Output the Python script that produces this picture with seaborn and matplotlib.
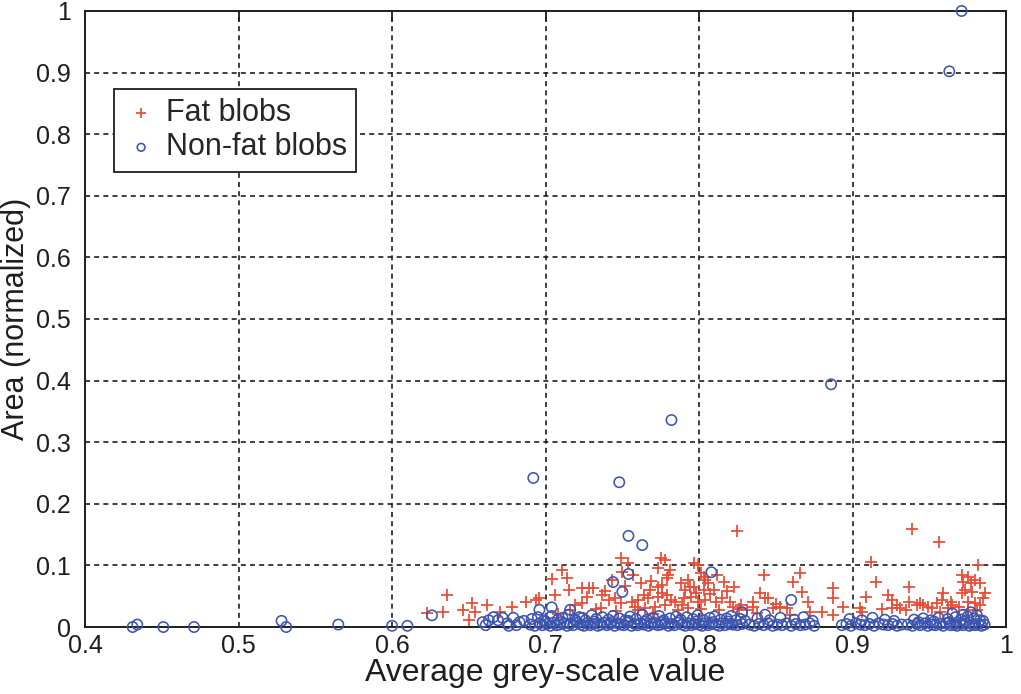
import matplotlib
matplotlib.use("Agg")
import matplotlib.pyplot as plt
from matplotlib.markers import MarkerStyle
import seaborn as sns
import pandas as pd

# ---------------- data ----------------
fat_x = [0.623, 0.633, 0.636, 0.646, 0.652, 0.654, 0.650, 0.662, 0.670, 0.678,
         0.687, 0.694, 0.696, 0.704, 0.711, 0.714, 0.715, 0.706, 0.724, 0.728,
         0.731, 0.724, 0.716, 0.737, 0.741, 0.736, 0.749, 0.754, 0.750, 0.745,
         0.749, 0.756, 0.760, 0.760, 0.764, 0.765, 0.767, 0.768, 0.771, 0.773,
         0.773, 0.773, 0.775, 0.776, 0.778, 0.778, 0.779, 0.779, 0.780, 0.784,
         0.786, 0.788, 0.791, 0.793, 0.793, 0.794, 0.797, 0.797, 0.799, 0.799,
         0.801, 0.803, 0.803, 0.804, 0.804, 0.806, 0.810, 0.812, 0.815, 0.816,
         0.820, 0.822, 0.823, 0.825, 0.835, 0.835, 0.840, 0.842, 0.843, 0.845,
         0.848, 0.853, 0.857, 0.859, 0.861, 0.866, 0.867, 0.871, 0.872, 0.880,
         0.887, 0.887, 0.887, 0.894, 0.905, 0.906, 0.909, 0.912, 0.915, 0.923,
         0.926, 0.929, 0.931, 0.926, 0.935, 0.937, 0.937, 0.939, 0.956, 0.982,
         0.971, 0.975, 0.972, 0.977, 0.980, 0.983, 0.973, 0.978, 0.971, 0.986,
         0.959, 0.958, 0.955, 0.964, 0.965, 0.962, 0.969, 0.975, 0.980, 0.983,
         0.985, 0.942, 0.944, 0.946, 0.949, 0.952, 0.981, 0.975, 0.957, 0.919,
         0.719, 0.733, 0.739, 0.746, 0.752, 0.758, 0.762, 0.770, 0.776, 0.782,
         0.789, 0.795, 0.801, 0.807, 0.813, 0.818, 0.827, 0.831, 0.838, 0.850,
         0.708, 0.727, 0.743, 0.757, 0.769, 0.781, 0.790, 0.798, 0.811, 0.826]
fat_y = [0.023, 0.024, 0.052, 0.028, 0.039, 0.024, 0.011, 0.036, 0.024, 0.032,
         0.041, 0.044, 0.047, 0.078, 0.093, 0.080, 0.060, 0.052, 0.063, 0.063,
         0.063, 0.039, 0.028, 0.052, 0.044, 0.031, 0.112, 0.104, 0.089, 0.047,
         0.039, 0.041, 0.044, 0.028, 0.052, 0.031, 0.047, 0.060, 0.032, 0.065,
         0.096, 0.049, 0.112, 0.068, 0.109, 0.036, 0.052, 0.080, 0.084, 0.041,
         0.028, 0.071, 0.060, 0.076, 0.031, 0.065, 0.104, 0.065, 0.101, 0.041,
         0.088, 0.081, 0.060, 0.076, 0.044, 0.071, 0.060, 0.084, 0.047, 0.073,
         0.041, 0.032, 0.065, 0.156, 0.041, 0.032, 0.055, 0.084, 0.047, 0.047,
         0.031, 0.032, 0.031, 0.019, 0.073, 0.088, 0.057, 0.041, 0.024, 0.024,
         0.063, 0.047, 0.019, 0.032, 0.031, 0.024, 0.049, 0.106, 0.073, 0.052,
         0.044, 0.036, 0.031, 0.031, 0.028, 0.065, 0.041, 0.159, 0.138, 0.101,
         0.084, 0.081, 0.073, 0.071, 0.076, 0.071, 0.060, 0.057, 0.055, 0.055,
         0.055, 0.044, 0.039, 0.041, 0.036, 0.031, 0.032, 0.041, 0.039, 0.036,
         0.047, 0.036, 0.039, 0.036, 0.032, 0.031, 0.028, 0.028, 0.024, 0.030,
         0.036, 0.029, 0.058, 0.026, 0.067, 0.033, 0.071, 0.021, 0.056, 0.044,
         0.035, 0.049, 0.030, 0.053, 0.027, 0.058, 0.036, 0.027, 0.023, 0.038,
         0.021, 0.048, 0.077, 0.085, 0.075, 0.092, 0.047, 0.055, 0.040, 0.030]

nonfat_x = [
    # outliers
    0.971, 0.963, 0.886, 0.782, 0.692, 0.748, 0.754, 0.763, 0.744, 0.754,
    0.750, 0.808, 0.860, 0.828, 0.843,
    # sparse left part
    0.431, 0.434, 0.451, 0.471, 0.528, 0.531, 0.565, 0.600, 0.610, 0.626,
    0.659, 0.663, 0.666, 0.669, 0.672, 0.675, 0.679, 0.681, 0.683, 0.661,
    0.676, 0.686, 0.696, 0.704, 0.716, 0.724,
    # dense band, row 1
    0.690, 0.693, 0.696, 0.698, 0.701, 0.703, 0.705, 0.707, 0.709, 0.712,
    0.714, 0.716, 0.718, 0.721, 0.723, 0.725, 0.727, 0.729, 0.731, 0.734,
    0.736, 0.738, 0.740, 0.742, 0.745, 0.747, 0.749, 0.751, 0.753, 0.756,
    0.758, 0.760, 0.762, 0.764, 0.767, 0.769, 0.771, 0.773, 0.775, 0.778,
    0.780, 0.782, 0.784, 0.786, 0.789, 0.791, 0.793, 0.795, 0.797, 0.800,
    0.802, 0.804, 0.806, 0.808, 0.811, 0.813, 0.815, 0.817, 0.820, 0.822,
    0.825, 0.828,
    # dense band, row 2
    0.691, 0.695, 0.699, 0.704, 0.708, 0.711, 0.715, 0.719, 0.722, 0.726,
    0.730, 0.733, 0.737, 0.741, 0.744, 0.748, 0.752, 0.755, 0.759, 0.763,
    0.766, 0.770, 0.774, 0.777, 0.781, 0.785, 0.788, 0.792, 0.796, 0.799,
    0.803, 0.807, 0.810, 0.814, 0.818, 0.821, 0.824, 0.827, 0.830,
    # middle part
    0.833, 0.836, 0.839, 0.842, 0.845, 0.848, 0.851, 0.854, 0.857, 0.860,
    0.863, 0.866, 0.869, 0.872, 0.875, 0.838, 0.846, 0.853, 0.862, 0.868,
    0.874,
    0.893, 0.896, 0.899, 0.902, 0.905, 0.908, 0.911, 0.914, 0.917, 0.920,
    0.923, 0.926, 0.929, 0.932, 0.898, 0.906, 0.913, 0.921, 0.927,
    # right dense part
    0.936, 0.939, 0.942, 0.944, 0.947, 0.949, 0.952, 0.954, 0.957, 0.959,
    0.961, 0.964, 0.966, 0.968, 0.970, 0.972, 0.974, 0.976, 0.978, 0.980,
    0.982, 0.984, 0.986, 0.940, 0.946, 0.951, 0.956, 0.962, 0.967, 0.971,
    0.975, 0.979, 0.983, 0.965, 0.972, 0.977, 0.981,
    # extra overlap in band
    0.700, 0.710, 0.720, 0.732, 0.743, 0.754, 0.765, 0.776, 0.787, 0.798,
    0.809, 0.819, 0.943, 0.953, 0.963, 0.973, 0.985]
nonfat_y = [
    1.000, 0.902, 0.394, 0.336, 0.242, 0.235, 0.148, 0.133, 0.073, 0.086,
    0.057, 0.089, 0.044, 0.024, 0.020,
    0.000, 0.004, 0.000, 0.000, 0.010, 0.000, 0.004, 0.002, 0.002, 0.019,
    0.008, 0.011, 0.016, 0.011, 0.015, 0.006, 0.015, 0.003, 0.008, 0.003,
    0.002, 0.010, 0.028, 0.032, 0.028, 0.015,
    0.004, 0.002, 0.006, 0.003, 0.005, 0.002, 0.007, 0.003, 0.004, 0.006,
    0.002, 0.005, 0.003, 0.007, 0.004, 0.002, 0.006, 0.003, 0.005, 0.002,
    0.004, 0.007, 0.003, 0.005, 0.002, 0.006, 0.004, 0.003, 0.007, 0.002,
    0.005, 0.003, 0.006, 0.004, 0.002, 0.005, 0.007, 0.003, 0.004, 0.006,
    0.002, 0.005, 0.003, 0.007, 0.004, 0.002, 0.006, 0.003, 0.005, 0.004,
    0.002, 0.006, 0.003, 0.005, 0.004, 0.002, 0.006, 0.003, 0.005, 0.004,
    0.003, 0.005,
    0.013, 0.016, 0.011, 0.018, 0.012, 0.015, 0.020, 0.012, 0.016, 0.011,
    0.019, 0.013, 0.016, 0.012, 0.018, 0.014, 0.011, 0.017, 0.013, 0.020,
    0.012, 0.015, 0.018, 0.011, 0.014, 0.017, 0.012, 0.016, 0.013, 0.019,
    0.011, 0.015, 0.017, 0.012, 0.014, 0.018, 0.011, 0.013, 0.010,
    0.004, 0.002, 0.005, 0.003, 0.006, 0.002, 0.004, 0.003, 0.006, 0.002,
    0.005, 0.003, 0.004, 0.006, 0.002, 0.014, 0.011, 0.015, 0.012, 0.016,
    0.010,
    0.003, 0.005, 0.002, 0.006, 0.004, 0.003, 0.005, 0.002, 0.006, 0.004,
    0.003, 0.005, 0.002, 0.004, 0.013, 0.011, 0.015, 0.012, 0.010,
    0.004, 0.002, 0.005, 0.003, 0.006, 0.002, 0.004, 0.003, 0.005, 0.002,
    0.006, 0.003, 0.004, 0.002, 0.005, 0.003, 0.006, 0.002, 0.004, 0.003,
    0.005, 0.002, 0.004, 0.012, 0.014, 0.011, 0.015, 0.013, 0.016, 0.012,
    0.017, 0.014, 0.011, 0.022, 0.020, 0.024, 0.019,
    0.009, 0.008, 0.010, 0.009, 0.008, 0.010, 0.009, 0.008, 0.010, 0.009,
    0.008, 0.009, 0.008, 0.009, 0.008, 0.009, 0.010]

x_ticks = [0.4, 0.5, 0.6, 0.7, 0.8, 0.9, 1.0]
x_tick_labels = ["0.4", "0.5", "0.6", "0.7", "0.8", "0.9", "1"]
y_ticks = [0.0, 0.1, 0.2, 0.3, 0.4, 0.5, 0.6, 0.7, 0.8, 0.9, 1.0]
y_tick_labels = ["0", "0.1", "0.2", "0.3", "0.4", "0.5", "0.6", "0.7", "0.8", "0.9", "1"]

fat_df = pd.DataFrame({"grey": fat_x, "area": fat_y})
nonfat_df = pd.DataFrame({"grey": nonfat_x, "area": nonfat_y})

# ---------------- style ----------------
sns.set_style("white")
plt.rcParams["font.family"] = ["Liberation Sans", "DejaVu Sans"]

RED = "#e84a32"
BLUE = "#3d55b0"
INK = "#1e1e1e"

fig = plt.figure(figsize=(10.21, 6.94), dpi=100)
fig.patch.set_facecolor("white")
ax = fig.add_axes([0.0833, 0.0965, 0.9021, 0.8877])

sns.scatterplot(data=fat_df, x="grey", y="area", ax=ax,
                marker="+", color=RED, s=85, linewidth=1.25,
                label="Fat blobs", zorder=3)
sns.scatterplot(data=nonfat_df, x="grey", y="area", ax=ax,
                marker=MarkerStyle("o", fillstyle="none"), color=BLUE,
                s=55, linewidth=1.15, label="Non-fat blobs", zorder=4,
                clip_on=False)

ax.set_xlim(0.4, 1.0)
ax.set_ylim(0.0, 1.0)
ax.set_xticks(x_ticks)
ax.set_xticklabels(x_tick_labels)
ax.set_yticks(y_ticks)
ax.set_yticklabels(y_tick_labels)

ax.grid(True, color=INK, linestyle=(0, (3, 2.5)), linewidth=1.2)
ax.set_axisbelow(True)
for sp in ax.spines.values():
    sp.set_visible(True)
    sp.set_color(INK)
    sp.set_linewidth(1.4)

ax.tick_params(direction="in", top=True, right=True, length=7, width=1.3,
               labelsize=18, colors=INK)
ax.tick_params(axis="y", pad=10)
ax.tick_params(axis="x", pad=5)
for lbl in ax.get_xticklabels() + ax.get_yticklabels():
    lbl.set_color(INK)

ax.set_xlabel("Average grey-scale value", fontsize=23, color=INK, labelpad=0)
ax.set_ylabel("Area (normalized)", fontsize=22, color=INK)
ax.yaxis.set_label_coords(-0.059, 0.5)

leg = ax.legend(loc="upper left", bbox_to_anchor=(0.031, 0.874),
                fontsize=22, frameon=True, fancybox=False, framealpha=1,
                edgecolor=INK, markerscale=0.75, handletextpad=0.2,
                borderpad=0.3, labelspacing=0.15, handlelength=1.2,
                borderaxespad=0)
leg.get_frame().set_linewidth(1.3)

fig.savefig("out.png", dpi=100, facecolor="white")
